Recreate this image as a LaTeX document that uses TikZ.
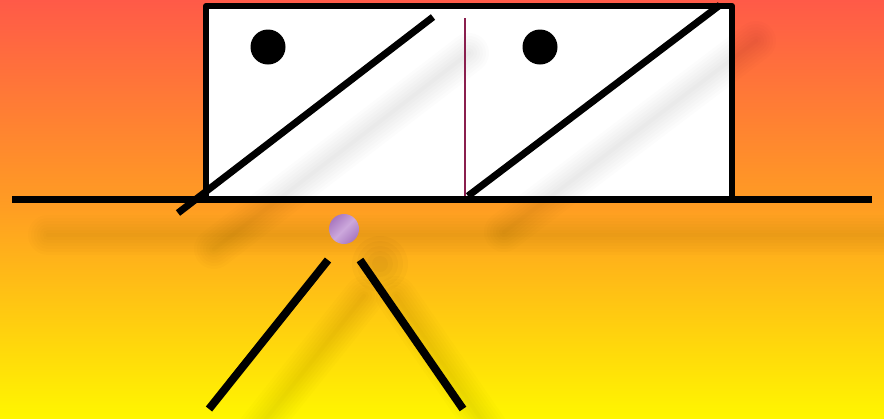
\documentclass[tikz,border=0pt]{standalone}
\usetikzlibrary{calc}
\definecolor{bgtop}{HTML}{FF5A48}
\definecolor{bgmid}{HTML}{FF9E22}
\definecolor{bgbot}{HTML}{FFF600}
\definecolor{divider}{HTML}{8A1F4E}
\definecolor{ballc}{HTML}{A878C0}
\definecolor{balll}{HTML}{CCA8DC}
\tikzset{
  thick line/.style={line width=7pt, draw=black},
  leg line/.style={line width=8pt, draw=black},
  frame/.style={line width=6pt, draw=black, fill=white, line join=round},
  shadowstroke/.style={draw=black, draw opacity=0.011, line cap=round},
}
\newcommand{\softshadow}[2]{%
  \foreach \w in {4,10,16,22,28,34,40}{
    \draw[shadowstroke, line width=\w pt] ($#1+(36,36)$) -- ($#2+(36,36)$);
  }%
}
\begin{document}
\begin{tikzpicture}[x=1pt,y=-1pt]
  \useasboundingbox (0,0) rectangle (884,418);
  \shade[top color=bgtop, bottom color=bgbot, middle color=bgmid] (0,0) rectangle (884,418);
  % named coordinates
  \coordinate (rtl) at (206,6);
  \coordinate (rbr) at (732,199);
  \coordinate (d1a) at (178,213);
  \coordinate (d1b) at (433,17);
  \coordinate (d2a) at (468,196);
  \coordinate (d2b) at (720,5);
  \coordinate (vt) at (465,18);
  \coordinate (vb) at (465,198);
  \coordinate (hl) at (12,199);
  \coordinate (hr) at (872,199);
  \coordinate (l1a) at (328,260);
  \coordinate (l1b) at (209,409);
  \coordinate (l2a) at (360,260);
  \coordinate (l2b) at (463,409);
  % frame
  \draw[frame] (rtl) rectangle (rbr);
  % shadows
  \begin{scope}
    \clip (0,0) rectangle (884,418);
    \softshadow{(d1a)}{(d1b)}
    \softshadow{(d2a)}{(d2b)}
    \softshadow{(hl)}{(hr)}
    \softshadow{(l1a)}{(l1b)}
    \softshadow{(l2a)}{(l2b)}
    \foreach \r in {8,13,18,23,28}{
      \fill[black, opacity=0.018] (380,264) circle (\r);
    }
  \end{scope}
  % divider
  \draw[divider, line width=1.6pt] (vt) -- (vb);
  % dots
  \fill[black] (268,47) circle (17.5) node (dot1) {};
  \fill[black] (540,47) circle (17.5) node (dot2) {};
  % diagonals
  \draw[thick line] (d1a) -- (d1b);
  \draw[thick line] (d2a) -- (d2b);
  % ground line
  \draw[thick line] (hl) -- (hr);
  % ball
  \node[circle, minimum size=30pt, inner sep=0pt, shading=axis, left color=ballc, right color=ballc, middle color=balll, shading angle=45] (ball) at (344,229) {};
  % legs
  \draw[leg line] (l1a) -- (l1b);
  \draw[leg line] (l2a) -- (l2b);
\end{tikzpicture}
\end{document}
